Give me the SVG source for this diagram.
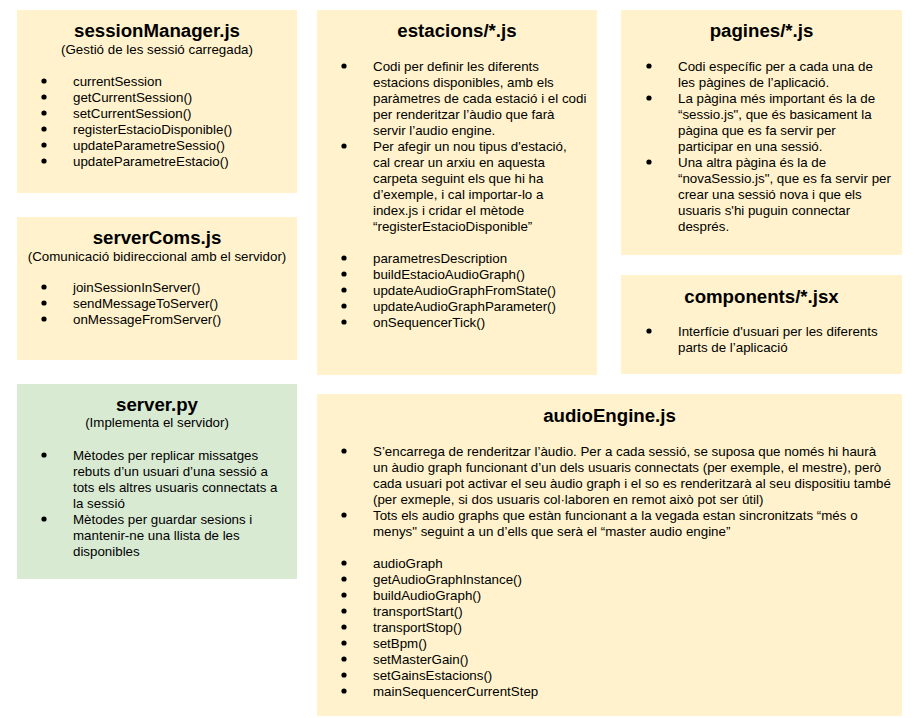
<svg xmlns="http://www.w3.org/2000/svg" width="915" height="718" viewBox="0 0 915 718">
<style>
.y{fill:#fff2cc}
.g{fill:#d9ead3}
text{font-family:"Liberation Sans",Arial,sans-serif;fill:#000}
.t{font-size:18.67px;font-weight:bold;text-anchor:middle}
.s{font-size:13.33px;text-anchor:middle}
.b{font-size:13.33px}
.d{fill:#000}
</style>
<defs>
<circle id="dot" r="2.6"/>
</defs>
<rect width="915" height="718" fill="#ffffff"/>

<g id="sessionManager">
<rect class="y" x="17" y="10" width="280" height="183"/>
<text class="t" x="157" y="37">sessionManager.js</text>
<text class="s" x="157" y="54">(Gestió de les sessió carregada)</text>
<g class="d">
<use href="#dot" x="44" y="81"/><use href="#dot" x="44" y="97"/><use href="#dot" x="44" y="113"/><use href="#dot" x="44" y="129"/><use href="#dot" x="44" y="145"/><use href="#dot" x="44" y="161"/>
</g>
<text class="b" x="73" y="86">currentSession</text>
<text class="b" x="73" y="102">getCurrentSession()</text>
<text class="b" x="73" y="118">setCurrentSession()</text>
<text class="b" x="73" y="134">registerEstacioDisponible()</text>
<text class="b" x="73" y="150">updateParametreSessio()</text>
<text class="b" x="73" y="166">updateParametreEstacio()</text>
</g>

<g id="serverComs">
<rect class="y" x="17" y="217" width="280" height="143"/>
<text class="t" x="157" y="244">serverComs.js</text>
<text class="s" x="157" y="261">(Comunicació bidireccional amb el servidor)</text>
<g class="d">
<use href="#dot" x="44" y="287"/><use href="#dot" x="44" y="303"/><use href="#dot" x="44" y="319"/>
</g>
<text class="b" x="73" y="292">joinSessionInServer()</text>
<text class="b" x="73" y="308">sendMessageToServer()</text>
<text class="b" x="73" y="324">onMessageFromServer()</text>
</g>

<g id="serverPy">
<rect class="g" x="17" y="384" width="280" height="195"/>
<text class="t" x="157" y="411">server.py</text>
<text class="s" x="157" y="427">(Implementa el servidor)</text>
<g class="d">
<use href="#dot" x="44" y="455"/><use href="#dot" x="44" y="519"/>
</g>
<text class="b" x="73" y="460">Mètodes per replicar missatges</text>
<text class="b" x="73" y="476">rebuts d’un usuari d’una sessió a</text>
<text class="b" x="73" y="492">tots els altres usuaris connectats a</text>
<text class="b" x="73" y="508">la sessió</text>
<text class="b" x="73" y="524">Mètodes per guardar sesions i</text>
<text class="b" x="73" y="540">mantenir-ne una llista de les</text>
<text class="b" x="73" y="556">disponibles</text>
</g>

<g id="estacions">
<rect class="y" x="317" y="10" width="280" height="365"/>
<text class="t" x="457" y="37">estacions/*.js</text>
<g class="d">
<use href="#dot" x="344" y="66"/><use href="#dot" x="344" y="146"/>
<use href="#dot" x="344" y="258"/><use href="#dot" x="344" y="274"/><use href="#dot" x="344" y="290"/><use href="#dot" x="344" y="306"/><use href="#dot" x="344" y="322"/>
</g>
<text class="b" x="373" y="71">Codi per definir les diferents</text>
<text class="b" x="373" y="87">estacions disponibles, amb els</text>
<text class="b" x="373" y="103">paràmetres de cada estació i el codi</text>
<text class="b" x="373" y="119">per renderitzar l’àudio que farà</text>
<text class="b" x="373" y="135">servir l’audio engine.</text>
<text class="b" x="373" y="151">Per afegir un nou tipus d'estació,</text>
<text class="b" x="373" y="167">cal crear un arxiu en aquesta</text>
<text class="b" x="373" y="183">carpeta seguint els que hi ha</text>
<text class="b" x="373" y="199">d’exemple, i cal importar-lo a</text>
<text class="b" x="373" y="215">index.js i cridar el mètode</text>
<text class="b" x="373" y="231">“registerEstacioDisponible”</text>
<text class="b" x="373" y="263">parametresDescription</text>
<text class="b" x="373" y="279">buildEstacioAudioGraph()</text>
<text class="b" x="373" y="295">updateAudioGraphFromState()</text>
<text class="b" x="373" y="311">updateAudioGraphParameter()</text>
<text class="b" x="373" y="327">onSequencerTick()</text>
</g>

<g id="pagines">
<rect class="y" x="621" y="10" width="281" height="245"/>
<text class="t" x="761.5" y="37">pagines/*.js</text>
<g class="d">
<use href="#dot" x="649" y="66"/><use href="#dot" x="649" y="98"/><use href="#dot" x="649" y="162"/>
</g>
<text class="b" x="678" y="71">Codi específic per a cada una de</text>
<text class="b" x="678" y="87">les pàgines de l’aplicació.</text>
<text class="b" x="678" y="103">La pàgina més important és la de</text>
<text class="b" x="678" y="119">“sessio.js", que és basicament la</text>
<text class="b" x="678" y="135">pàgina que es fa servir per</text>
<text class="b" x="678" y="151">participar en una sessió.</text>
<text class="b" x="678" y="167">Una altra pàgina és la de</text>
<text class="b" x="678" y="183">“novaSessio.js", que es fa servir per</text>
<text class="b" x="678" y="199">crear una sessió nova i que els</text>
<text class="b" x="678" y="215">usuaris s'hi puguin connectar</text>
<text class="b" x="678" y="231">després.</text>
</g>

<g id="components">
<rect class="y" x="621" y="275" width="281" height="99"/>
<text class="t" x="761.5" y="303">components/*.jsx</text>
<g class="d">
<use href="#dot" x="649" y="331"/>
</g>
<text class="b" x="678" y="336">Interfície d'usuari per les diferents</text>
<text class="b" x="678" y="352">parts de l’aplicació</text>
</g>

<g id="audioEngine">
<rect class="y" x="317" y="394" width="585" height="322"/>
<text class="t" x="609.5" y="422">audioEngine.js</text>
<g class="d">
<use href="#dot" x="344" y="451"/><use href="#dot" x="344" y="515"/>
<use href="#dot" x="344" y="563"/><use href="#dot" x="344" y="579"/><use href="#dot" x="344" y="595"/><use href="#dot" x="344" y="611"/><use href="#dot" x="344" y="627"/><use href="#dot" x="344" y="643"/><use href="#dot" x="344" y="659"/><use href="#dot" x="344" y="675"/><use href="#dot" x="344" y="691"/>
</g>
<text class="b" x="373" y="456">S’encarrega de renderitzar l’àudio. Per a cada sessió, se suposa que només hi haurà</text>
<text class="b" x="373" y="472">un àudio graph funcionant d’un dels usuaris connectats (per exemple, el mestre), però</text>
<text class="b" x="373" y="488">cada usuari pot activar el seu àudio graph i el so es renderitzarà al seu dispositiu també</text>
<text class="b" x="373" y="504">(per exmeple, si dos usuaris col·laboren en remot això pot ser útil)</text>
<text class="b" x="373" y="520">Tots els audio graphs que estàn funcionant a la vegada estan sincronitzats “més o</text>
<text class="b" x="373" y="536">menys" seguint a un d’ells que serà el “master audio engine”</text>
<text class="b" x="373" y="568">audioGraph</text>
<text class="b" x="373" y="584">getAudioGraphInstance()</text>
<text class="b" x="373" y="600">buildAudioGraph()</text>
<text class="b" x="373" y="616">transportStart()</text>
<text class="b" x="373" y="632">transportStop()</text>
<text class="b" x="373" y="648">setBpm()</text>
<text class="b" x="373" y="664">setMasterGain()</text>
<text class="b" x="373" y="680">setGainsEstacions()</text>
<text class="b" x="373" y="696">mainSequencerCurrentStep</text>
</g>

<g id="connectors"></g>
</svg>
